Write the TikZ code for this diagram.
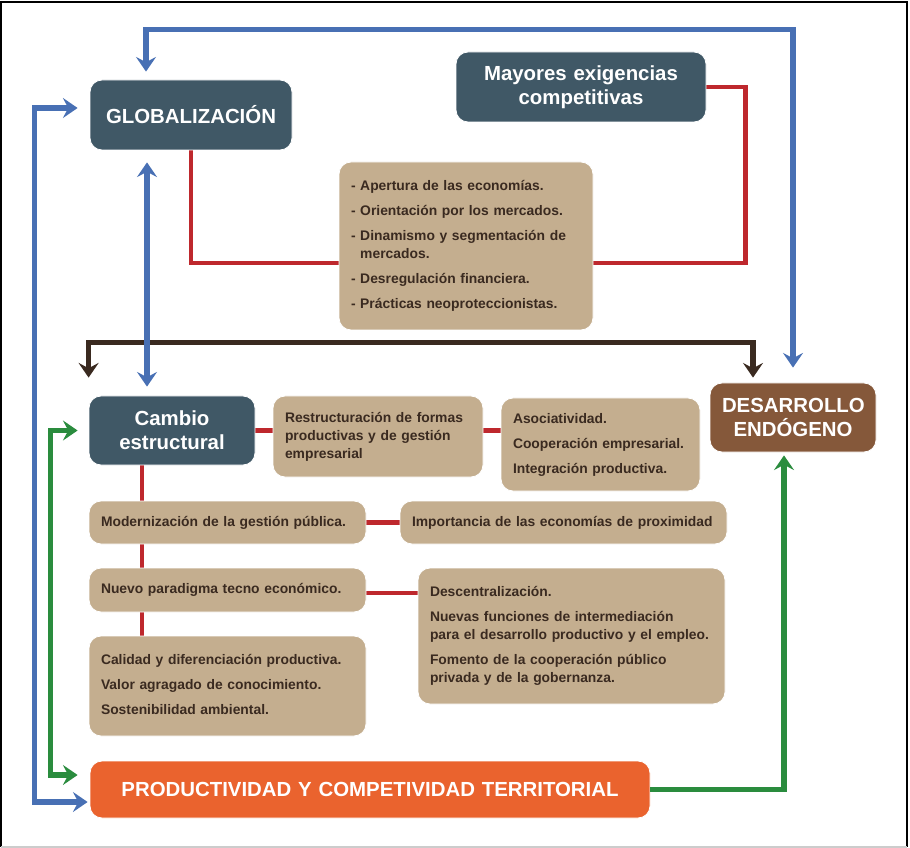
\documentclass[tikz,border=0pt]{standalone}
\usepackage{fontspec}
\setmainfont{Liberation Sans}
\usetikzlibrary{arrows.meta,calc}
\definecolor{slate}{RGB}{64,88,102}
\definecolor{tanc}{RGB}{196,174,143}
\definecolor{ddbrown}{RGB}{133,88,58}
\definecolor{orng}{RGB}{234,99,46}
\definecolor{lred}{RGB}{190,40,45}
\definecolor{lblue}{RGB}{72,112,180}
\definecolor{lgreen}{RGB}{42,140,62}
\definecolor{lbrown}{RGB}{58,42,32}
\definecolor{txtc}{RGB}{58,42,32}
\pgfdeclarelayer{bg}\pgfdeclarelayer{paper}\pgfsetlayers{paper,bg,main}
\newcommand\tl[1]{\begin{tabular}{@{}l@{}}#1\end{tabular}}
\newcommand\bx[7]{%
  \pgfmathsetmacro\mybw{(#4-#2)*0.75}%
  \pgfmathsetmacro\mybh{(#5-#3)*0.75}%
  \pgfmathsetmacro\mytw{(#4-#2)*0.75-18}%
  \node[#6, minimum width=\mybw pt, minimum height=\mybh pt, text width=\mytw pt] (#1) at ({(#2+#4)/2},{(#3+#5)/2}) {#7};}
\tikzset{arr/.tip={Stealth[length=11pt,width=15pt,inset=4pt]}}
\begin{document}
\begin{tikzpicture}[x=0.75pt,y=-0.75pt,
  box/.style={rounded corners=9pt, draw=white, line width=0.6pt, inner xsep=9pt, inner ysep=0pt},
  head/.style={box, fill=slate, text=white, align=center, font=\fontsize{15.3}{18}\selectfont\bfseries},
  tanbox/.style={box, fill=tanc, text=txtc, align=left, font=\fontsize{10.4}{13.5}\selectfont\bfseries},
  conn/.style={line width=3.8pt},
  rline/.style={line width=3.3pt, draw=lred},
  bline/.style={conn, draw=lblue},
  gline/.style={conn, draw=lgreen},
  kline/.style={conn, draw=lbrown}]
\useasboundingbox (0,0) rectangle (910,848);
\begin{pgfonlayer}{paper}
\fill[white] (0,0) rectangle (910,848);
\end{pgfonlayer}
\draw[line width=1.5pt] (1,847) -- (1,2) -- (907,2) -- (907,847);
\draw[gray!40, line width=1pt] (1,847) -- (907,847);

\bx{glob}{90}{80}{292}{150}{head}{GLOBALIZACIÓN}
\bx{mayo}{456}{52}{706}{122}{head}{Mayores exigencias\\competitivas}
\bx{list}{339}{162}{593}{330}{tanbox}{\tl{- Apertura de las economías.\\[5.25pt]
- Orientación por los mercados.\\[5.25pt]
- Dinamismo y segmentación de\\
\phantom{- }mercados.\\[5.25pt]
- Desregulación financiera.\\[5.25pt]
- Prácticas neoproteccionistas.}}
\bx{cambio}{89}{396}{255}{465}{head}{Cambio\\estructural}
\bx{restr}{273}{396}{483}{477}{tanbox}{\tl{Restructuración de formas\\productivas y de gestión\\empresarial}}
\bx{asoc}{501}{398}{700}{491}{tanbox}{\tl{Asociatividad.\\[5.25pt]Cooperación empresarial.\\[5.25pt]Integración productiva.}}
\bx{desa}{710}{383}{876}{452}{head, fill=ddbrown}{DESARROLLO\\ENDÓGENO}
\bx{modern}{89}{501}{366}{544}{tanbox}{\tl{Modernización de la gestión pública.}}
\bx{impor}{400}{501}{727}{544}{tanbox}{\tl{Importancia de las economías de proximidad}}
\bx{nuevo}{89}{568}{366}{612}{tanbox}{\tl{Nuevo paradigma tecno económico.}}
\bx{descent}{418}{568}{725}{704}{tanbox}{\tl{Descentralización.\\[5.25pt]Nuevas funciones de intermediación\\para el desarrollo productivo y el empleo.\\[5.25pt]Fomento de la cooperación público\\privada y de la gobernanza.}}
\bx{calidad}{89}{636}{366}{736}{tanbox}{\tl{Calidad y diferenciación productiva.\\[5.25pt]Valor agragado de conocimiento.\\[5.25pt]Sostenibilidad ambiental.}}
\bx{prod}{90}{761}{650}{818}{head, fill=orng}{PRODUCTIVIDAD Y COMPETIVIDAD TERRITORIAL}

\begin{pgfonlayer}{bg}
\draw[rline] (glob.south) |- ($(list.west)+(0,17)$);
\draw[rline] (mayo.east) -- ++(39,0) |- ($(list.east)+(0,17)$);
\draw[rline] (cambio.east) -- (cambio.east -| restr.west);
\draw[rline] (cambio.east -| restr.east) -- (cambio.east -| asoc.west);
\draw[rline] ($(cambio.south)+(-30,0)$) coordinate (rv) -- (rv |- calidad.north);
\draw[rline] (modern.east) -- (impor.west);
\draw[rline] ($(nuevo.east)+(0,3)$) -- ($(nuevo.east -| descent.west)+(0,3)$);
\end{pgfonlayer}

\draw[kline, arr-arr] ($(cambio.north west)+(0,-18)$) -- ++(0,-35) -| ($(desa.north)+(-40,-5)$);
\draw[bline, arr-arr] ($(glob.north)+(-45,-8)$) -- ++(0,-42) -| ($(desa.north)+(0,-15)$);
\draw[bline, arr-arr] ($(glob.west)+(-12,-7)$) -- ++(-43,0) |- ($(prod.west)+(-2,12.5)$);
\draw[bline, arr-arr] ($(glob.south)+(-44,12)$) coordinate (gb) -- ($(gb |- cambio.north)+(0,-9)$);
\draw[gline, arr-arr] ($(cambio.west)+(-11,0)$) -- ++(-27,0) |- ($(prod.west)+(-12,-14.5)$);
\draw[gline, -arr] (prod.east) -| ($(desa.south)+(-9,3)$);
\end{tikzpicture}
\end{document}
